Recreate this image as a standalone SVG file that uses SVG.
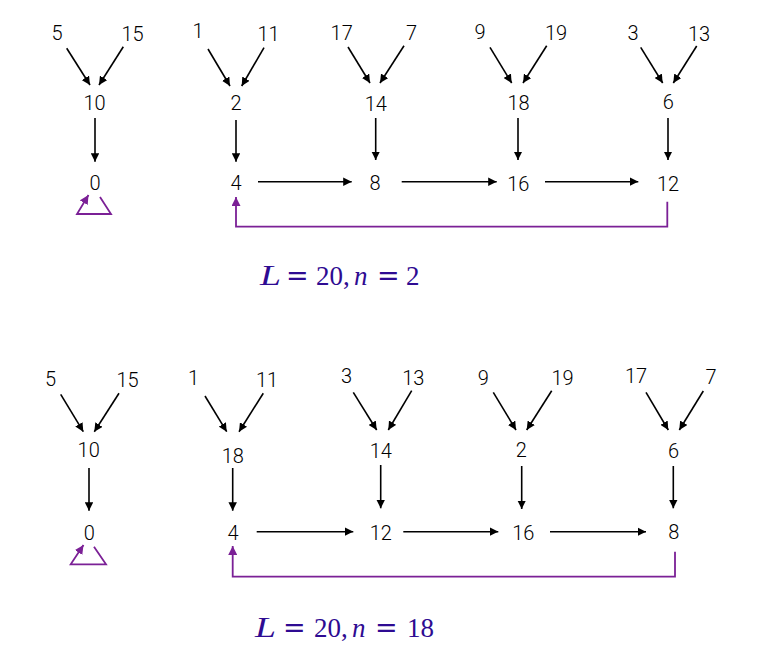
<svg xmlns="http://www.w3.org/2000/svg" width="763" height="663" viewBox="0 0 763 663">
<style>
.n{font-family:Roboto,"Liberation Sans",Arial,sans-serif;font-weight:300;font-size:20px;fill:#000;text-anchor:middle}
.e{stroke:#000;stroke-width:1.6;fill:none;marker-end:url(#ab)}
.p{stroke:#7b2096;stroke-width:1.8;fill:none;marker-end:url(#ap)}
.lab{font-family:"Liberation Serif","Times New Roman",serif;font-size:27px;fill:#2e0b92}
.it{font-style:italic}
.eq{font-family:"DejaVu Serif",serif;font-style:normal}
</style>
<defs>
<marker id="ab" viewBox="0 0 10 10" refX="10" refY="5" markerWidth="8.5" markerHeight="8.5" markerUnits="userSpaceOnUse" orient="auto"><path d="M0,0 L10,5 L0,10 z" fill="#000"/></marker>
<marker id="ap" viewBox="0 0 10 10" refX="10" refY="5" markerWidth="9" markerHeight="9" markerUnits="userSpaceOnUse" orient="auto"><path d="M0,0 L10,5 L0,10 z" fill="#7b2096"/></marker>
</defs>
<rect width="763" height="663" fill="#fff"/>

<g id="connectors-top">
<line class="e" x1="66.7" y1="48.3" x2="90" y2="85"/>
<line class="e" x1="123.3" y1="46.7" x2="99" y2="85"/>
<line class="e" x1="95" y1="118" x2="95" y2="161.7"/>
<line class="e" x1="208" y1="49" x2="230" y2="86"/>
<line class="e" x1="264" y1="47.7" x2="241.7" y2="86"/>
<line class="e" x1="236" y1="120" x2="236" y2="161.7"/>
<line class="e" x1="348" y1="47" x2="370" y2="83"/>
<line class="e" x1="404" y1="45.7" x2="380" y2="83"/>
<line class="e" x1="375.7" y1="118" x2="375.7" y2="160"/>
<line class="e" x1="490" y1="47.3" x2="511.7" y2="83"/>
<line class="e" x1="546.7" y1="45.7" x2="523" y2="83"/>
<line class="e" x1="518" y1="118" x2="518" y2="160"/>
<line class="e" x1="640.7" y1="47.3" x2="662.7" y2="83"/>
<line class="e" x1="696.7" y1="46" x2="673.3" y2="83"/>
<line class="e" x1="668" y1="118" x2="668" y2="160"/>
<line class="e" x1="258" y1="181.7" x2="351.7" y2="181.7"/>
<line class="e" x1="401.7" y1="181.7" x2="496.7" y2="181.7"/>
<line class="e" x1="545" y1="181.7" x2="638.3" y2="181.7"/>
<path class="p" d="M667.3,201.7 V226.7 H236 V197"/>
<path class="p" d="M100,197 L111,214 L77,214 L88.5,195"/>
</g>

<g id="connectors-bottom">
<line class="e" x1="60.7" y1="394.3" x2="83.3" y2="431.7"/>
<line class="e" x1="119" y1="393.3" x2="94.3" y2="431.7"/>
<line class="e" x1="89" y1="468" x2="89" y2="510.7"/>
<line class="e" x1="205" y1="396" x2="226.7" y2="431.7"/>
<line class="e" x1="263.3" y1="393.3" x2="239" y2="431.7"/>
<line class="e" x1="232.7" y1="468" x2="232.7" y2="510.7"/>
<line class="e" x1="353.3" y1="392.3" x2="376.7" y2="430"/>
<line class="e" x1="411.7" y1="390.7" x2="388.3" y2="430"/>
<line class="e" x1="380.7" y1="465" x2="380.7" y2="508.3"/>
<line class="e" x1="493.3" y1="392.3" x2="516" y2="430"/>
<line class="e" x1="551.7" y1="390.7" x2="526.7" y2="430"/>
<line class="e" x1="521.7" y1="466" x2="521.7" y2="509"/>
<line class="e" x1="646" y1="392.3" x2="668.3" y2="430"/>
<line class="e" x1="703.3" y1="391" x2="679.3" y2="430"/>
<line class="e" x1="673.3" y1="466" x2="673.3" y2="508.3"/>
<line class="e" x1="256.7" y1="531.7" x2="353.3" y2="531.7"/>
<line class="e" x1="403.3" y1="531.7" x2="498.3" y2="531.7"/>
<line class="e" x1="550" y1="531.7" x2="646" y2="531.7"/>
<path class="p" d="M675,551.7 V576.7 H232.7 V546"/>
<path class="p" d="M94,546.7 L106,564.3 L70.7,564.3 L83.5,545"/>
</g>

<g id="top-nodes">
<g id="t5"><text class="n" x="57" y="40">5</text></g>
<g id="t15"><text class="n" x="132.5" y="40.5">15</text></g>
<g id="t10"><text class="n" x="94.5" y="110">10</text></g>
<g id="t0"><text class="n" x="95" y="190">0</text></g>
<g id="t1"><text class="n" x="198" y="38">1</text></g>
<g id="t11"><text class="n" x="268.5" y="40.5">11</text></g>
<g id="t2"><text class="n" x="236" y="109.5">2</text></g>
<g id="t4"><text class="n" x="236" y="190">4</text></g>
<g id="t17"><text class="n" x="341.7" y="40">17</text></g>
<g id="t7"><text class="n" x="411.5" y="40">7</text></g>
<g id="t14"><text class="n" x="375.8" y="110.7">14</text></g>
<g id="t8"><text class="n" x="375" y="190">8</text></g>
<g id="t9"><text class="n" x="480" y="39">9</text></g>
<g id="t19"><text class="n" x="556" y="39.5">19</text></g>
<g id="t18"><text class="n" x="518.5" y="110">18</text></g>
<g id="t16"><text class="n" x="518.3" y="191">16</text></g>
<g id="t3"><text class="n" x="633" y="39.5">3</text></g>
<g id="t13"><text class="n" x="699" y="40.7">13</text></g>
<g id="t6"><text class="n" x="668.3" y="109.3">6</text></g>
<g id="t12"><text class="n" x="668" y="191">12</text></g>
</g>

<g id="bottom-nodes">
<g id="b5"><text class="n" x="50.5" y="386">5</text></g>
<g id="b15"><text class="n" x="127.5" y="386.7">15</text></g>
<g id="b10"><text class="n" x="88.7" y="457">10</text></g>
<g id="b0"><text class="n" x="89.2" y="540">0</text></g>
<g id="b1"><text class="n" x="193.5" y="385">1</text></g>
<g id="b11"><text class="n" x="267" y="386.7">11</text></g>
<g id="b18"><text class="n" x="232.8" y="462.7">18</text></g>
<g id="b4"><text class="n" x="233" y="540">4</text></g>
<g id="b3"><text class="n" x="346.5" y="383.3">3</text></g>
<g id="b13"><text class="n" x="413.3" y="385">13</text></g>
<g id="b14"><text class="n" x="380.8" y="458.3">14</text></g>
<g id="b12"><text class="n" x="380.8" y="540">12</text></g>
<g id="b9"><text class="n" x="483.3" y="385">9</text></g>
<g id="b19"><text class="n" x="562.5" y="385">19</text></g>
<g id="b2"><text class="n" x="521.2" y="456.7">2</text></g>
<g id="b16"><text class="n" x="523.3" y="540">16</text></g>
<g id="b17"><text class="n" x="636" y="382.7">17</text></g>
<g id="b7"><text class="n" x="711" y="384">7</text></g>
<g id="b6"><text class="n" x="673.5" y="458.3">6</text></g>
<g id="b8"><text class="n" x="673.8" y="539">8</text></g>
</g>

<g id="label-top">
<text class="lab" y="285"><tspan class="it" x="260" font-size="29" textLength="21" lengthAdjust="spacingAndGlyphs">L</tspan><tspan class="eq" x="286">=</tspan><tspan x="316">20,</tspan><tspan class="it" x="354">n</tspan><tspan class="eq" x="377">=</tspan><tspan x="406">2</tspan></text>
</g>
<g id="label-bottom">
<text class="lab" y="636.7"><tspan class="it" x="255" font-size="29" textLength="21" lengthAdjust="spacingAndGlyphs">L</tspan><tspan class="eq" x="283">=</tspan><tspan x="314">20,</tspan><tspan class="it" x="352">n</tspan><tspan class="eq" x="375">=</tspan><tspan x="407">18</tspan></text>
</g>
</svg>
